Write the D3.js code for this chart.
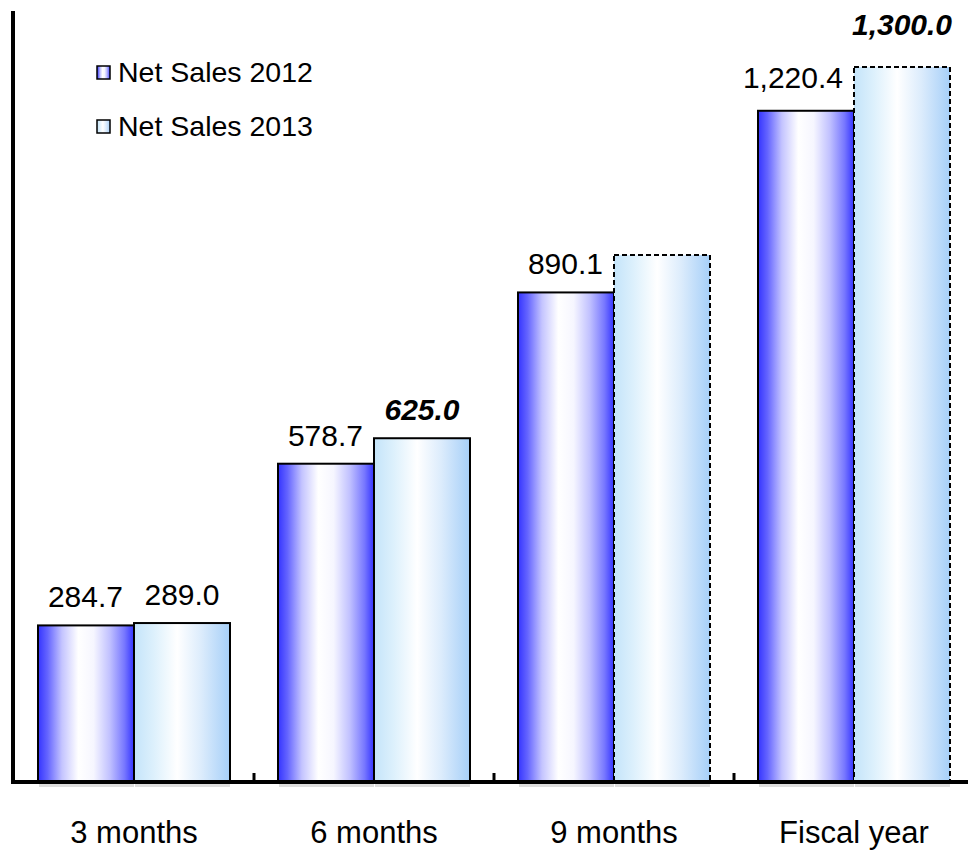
<!DOCTYPE html>
<html>
<head>
<meta charset="utf-8">
<script src="https://cdn.jsdelivr.net/npm/d3@7"></script>
<style>
  html, body { margin: 0; padding: 0; background: #ffffff; }
  svg { display: block; font-family: "Liberation Sans", Arial, sans-serif; }
</style>
</head>
<body>
<svg id="chart" width="968" height="850"></svg>
<script>
// Cumulative net sales by period
const categories = ["3 months", "6 months", "9 months", "Fiscal year"];
const seriesNames = ["Net Sales 2012", "Net Sales 2013"];
const sales2012 = [284.7, 578.7, 890.1, 1220.4];
const sales2013 = [289.0, 625.0, 958.0, 1300.0];
// Text shown above each bar (null = no label); bold italic marks a target figure
const labels2012 = ["284.7", "578.7", "890.1", "1,220.4"];
const labels2013 = ["289.0", "625.0", null, "1,300.0"];
const emphasis2013 = [false, true, false, true];
// 2013 periods that are still a forecast get a dashed outline
const forecast2013 = [false, false, true, true];

const svg = d3.select("#chart");
const W = 968, H = 850;
const baseY = 782, topY = 0;
const axisX = 13;

const defs = svg.append("defs");
function hGradient(id, stops) {
  const g = defs.append("linearGradient").attr("id", id)
    .attr("x1", "0%").attr("x2", "100%").attr("y1", "0%").attr("y2", "0%");
  stops.forEach(s => g.append("stop").attr("offset", s[0]).attr("stop-color", s[1]));
}
hGradient("g2012", [
  ["0%", "#3434ff"], ["10%", "#6565ff"], ["25%", "#c4c4ff"], ["42%", "#ffffff"],
  ["58%", "#f6f6ff"], ["75%", "#c0c0ff"], ["90%", "#7878ff"], ["100%", "#3434ff"]
]);
hGradient("g2013", [
  ["0%", "#c4e4fa"], ["20%", "#dcf0fc"], ["45%", "#ffffff"],
  ["70%", "#dcecfc"], ["100%", "#a6cff8"]
]);
const fills = ["url(#g2012)", "url(#g2013)"];

const x = d3.scaleBand().domain(categories).range([axisX + 1, axisX + 961])
  .paddingInner(0.2).paddingOuter(0.1);
const xs = d3.scaleBand().domain([0, 1]).range([0, x.bandwidth()]);
const y = d3.scaleLinear().domain([0, 1421.8]).range([baseY, topY]);

const rows = [];
categories.forEach((c, i) => {
  rows.push({ cat: c, s: 0, v: sales2012[i], label: labels2012[i], bold: false, dashed: false });
  rows.push({ cat: c, s: 1, v: sales2013[i], label: labels2013[i], bold: emphasis2013[i], dashed: forecast2013[i] });
});

// faint shadow under each bar foot
svg.append("g").selectAll("rect").data(rows).join("rect")
  .attr("x", d => x(d.cat) + xs(d.s) + 1)
  .attr("y", baseY + 2)
  .attr("width", xs.bandwidth() - 1)
  .attr("height", 3)
  .attr("fill", "#dddddd");

// bars
svg.append("g").selectAll("rect").data(rows).join("rect")
  .attr("x", d => x(d.cat) + xs(d.s))
  .attr("y", d => y(d.v))
  .attr("width", xs.bandwidth())
  .attr("height", d => baseY - y(d.v))
  .attr("fill", d => fills[d.s])
  .attr("stroke", "#000")
  .attr("stroke-width", 2)
  .attr("stroke-dasharray", d => d.dashed ? "5,3" : null);

// value labels
const lift = { "Fiscal year|1": 32, "Fiscal year|0": 23 };
svg.append("g").selectAll("text").data(rows.filter(d => d.label)).join("text")
  .attr("x", d => d.s === 0 ? x(d.cat) + xs(d.s) + xs.bandwidth() - 11 : x(d.cat) + xs(d.s) + xs.bandwidth() / 2)
  .attr("y", d => y(d.v) - (lift[d.cat + "|" + d.s] || 18))
  .attr("text-anchor", d => d.s === 0 ? "end" : "middle")
  .attr("font-size", 30)
  .attr("font-weight", d => d.bold ? "bold" : "normal")
  .attr("font-style", d => d.bold ? "italic" : "normal")
  .attr("fill", "#000")
  .text(d => d.label);

// x axis: baseline, ticks between categories, labels
const xAxis = svg.append("g");
xAxis.append("line")
  .attr("x1", axisX - 2).attr("x2", W).attr("y1", baseY).attr("y2", baseY)
  .attr("stroke", "#000").attr("stroke-width", 4);
const boundaries = categories.slice(1).map(c => x(c) - x.step() * x.paddingInner() / 2);
xAxis.selectAll("line.tick").data(boundaries).join("line").attr("class", "tick")
  .attr("x1", d => d).attr("x2", d => d)
  .attr("y1", baseY - 9).attr("y2", baseY)
  .attr("stroke", "#000").attr("stroke-width", 3);
xAxis.selectAll("text").data(categories).join("text")
  .attr("x", d => x(d) + x.bandwidth() / 2)
  .attr("y", 843)
  .attr("text-anchor", "middle")
  .attr("font-size", 31)
  .attr("fill", "#000")
  .text(d => d);

// y axis line
svg.append("line")
  .attr("x1", axisX).attr("x2", axisX).attr("y1", 11).attr("y2", baseY + 2)
  .attr("stroke", "#000").attr("stroke-width", 4);

// legend
const legend = svg.append("g");
seriesNames.forEach((name, i) => {
  const ly = 72 + i * 54;
  legend.append("rect")
    .attr("x", 97).attr("y", ly - 6).attr("width", 13).attr("height", 13)
    .attr("fill", fills[i]).attr("stroke", "#000").attr("stroke-width", 1.5);
  legend.append("text")
    .attr("x", 118).attr("y", ly + 10)
    .attr("font-size", 28.5)
    .attr("fill", "#000")
    .text(name);
});
</script>
</body>
</html>
